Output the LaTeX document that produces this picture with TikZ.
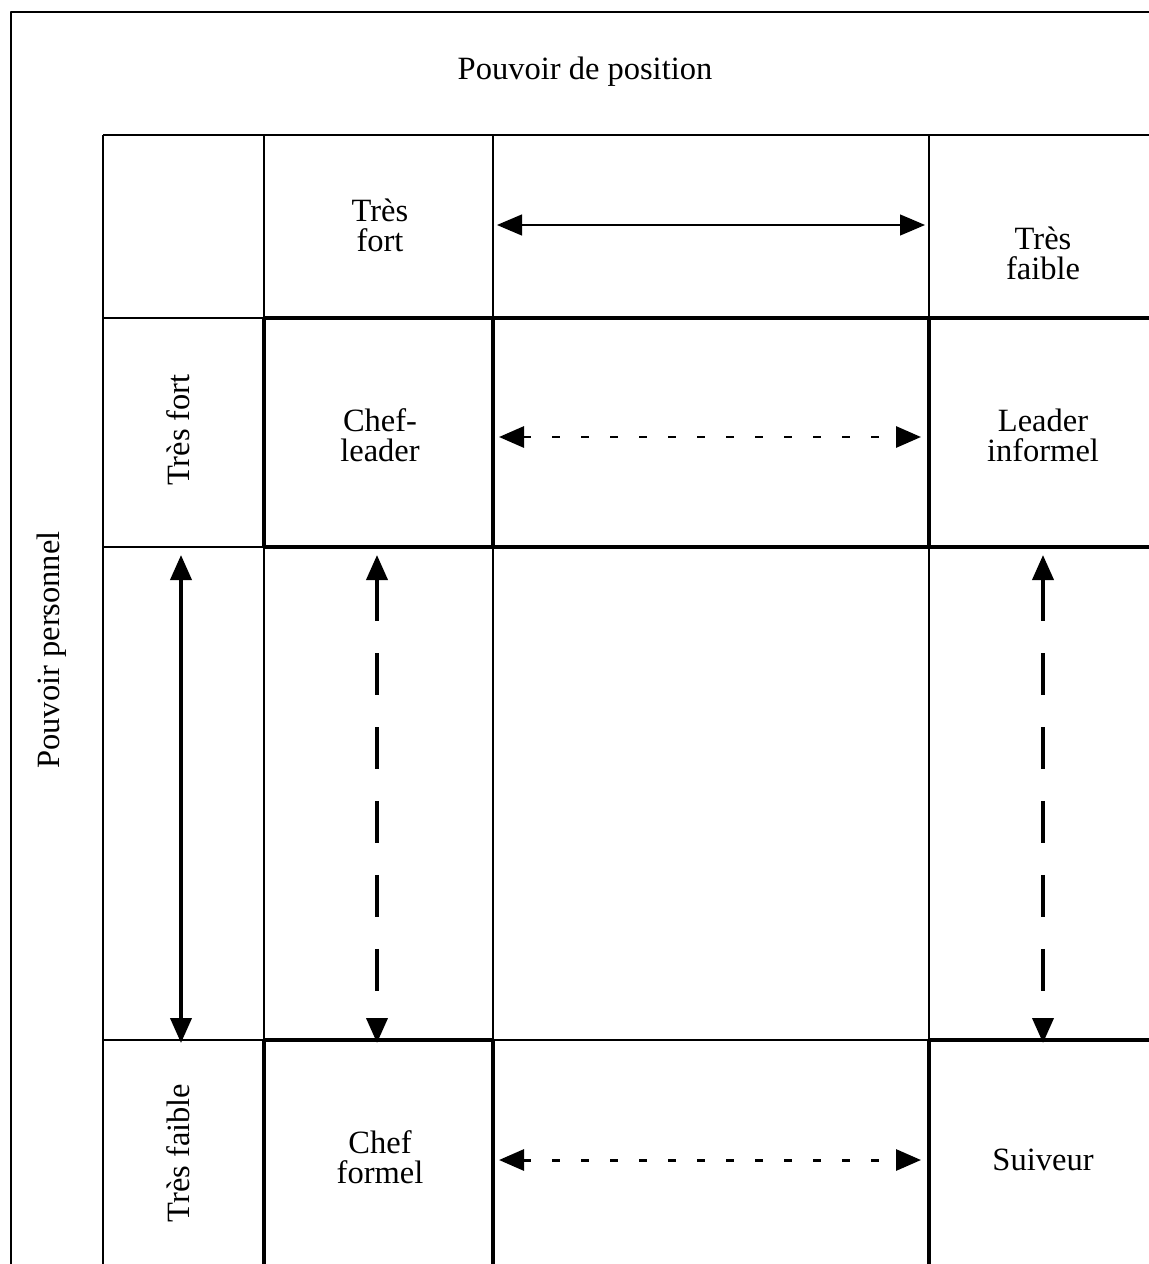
\documentclass[tikz,border=0pt]{standalone}
\usepackage{fontspec}
\setmainfont{Liberation Serif}
\usetikzlibrary{arrows.meta}
\begin{document}
\begin{tikzpicture}[x=0.02cm, y=-0.02cm, font=\fontsize{18.5}{17}\selectfont, line join=round,
	grille/.style={line width=1.1pt},
	epais/.style={line width=2pt},
	fleche/.style={{Triangle[length=0.5cm,width=0.42cm]}-{Triangle[length=0.5cm,width=0.42cm]}},
	tirets/.style={dash pattern=on 0.16cm off 0.42cm, line width=1.7pt},
	longtirets/.style={dash pattern=on 0.84cm off 0.64cm, line width=2.2pt},
	etiquette/.style={align=center, inner sep=0pt}]
	% Cadre de l'image
	\useasboundingbox (0,0) rectangle (1149,1264);
	\clip (0,0) rectangle (1149,1264);
	\fill[white] (0,0) rectangle (1149,1264);
	% Colonnes et lignes
	\def\xa{103}\def\xb{264}\def\xc{493}\def\xd{929}
	\def\ya{135}\def\yb{318}\def\yc{547}\def\yd{1040}
	% Cadre extérieur
	\draw[grille] (11,1300) -- (11,12) -- (1200,12);
	% Grille fine
	\draw[grille] (\xa,\ya) -- (1200,\ya);
	\draw[grille] (\xa,\yb) -- (\xb,\yb);
	\draw[grille] (\xa,\yc) -- (\xb,\yc);
	\draw[grille] (\xa,\yd) -- (\xb,\yd);
	\draw[grille] (\xc,\yd) -- (\xd,\yd);
	\draw[grille] (\xa,\ya) -- (\xa,1300);
	\draw[grille] (\xb,\ya) -- (\xb,1300);
	\draw[grille] (\xc,\ya) -- (\xc,1300);
	\draw[grille] (\xd,\ya) -- (\xd,1300);
	% Cases en trait épais
	\draw[epais] (\xb,\yc) -- (\xb,\yb) -- (1200,\yb);
	\draw[epais] (\xb,\yc) -- (1200,\yc);
	\draw[epais] (\xc,\yb) -- (\xc,\yc);
	\draw[epais] (\xd,\yb) -- (\xd,\yc);
	\draw[epais] (\xb,1300) -- (\xb,\yd) -- (\xc,\yd) -- (\xc,1300);
	\draw[epais] (\xd,1300) -- (\xd,\yd) -- (1200,\yd);
	% Titres
	\node[etiquette] (position) at (585,72) {Pouvoir de position};
	\node[etiquette, rotate=90] (personnel) at (52,650) {Pouvoir personnel};
	% Textes des cases
	\node[etiquette] (fortH) at (380,225) {Très\\fort};
	\node[etiquette] (faibleH) at (1043,253) {Très\\faible};
	\node[etiquette, rotate=90] (fortV) at (178,430) {Très fort};
	\node[etiquette, rotate=90] (faibleV) at (178,1153) {Très faible};
	\node[etiquette] (chefleader) at (380,435) {Chef-\\leader};
	\node[etiquette] (informel) at (1043,435) {Leader\\informel};
	\node[etiquette] (formel) at (380,1157) {Chef\\formel};
	\node[etiquette] (suiveur) at (1043,1160) {Suiveur};
	% Extrémités des flèches
	\coordinate (h1g) at (497,225); \coordinate (h1d) at (925,225);
	\coordinate (h2g) at (499,437); \coordinate (h2d) at (921,437);
	\coordinate (h3g) at (499,1160); \coordinate (h3d) at (921,1160);
	\coordinate (v1h) at (181,555); \coordinate (v1b) at (181,1043);
	\coordinate (v2h) at (377,555); \coordinate (v2b) at (377,1043);
	\coordinate (v3h) at (1043,555); \coordinate (v3b) at (1043,1043);
	% Flèches
	\draw[fleche, line width=0.7pt] (h1g) -- (h1d);
	\draw[fleche, tirets] (h2g) -- (h2d);
	\draw[fleche, tirets] (h3g) -- (h3d);
	\draw[fleche, line width=2.2pt] (v1h) -- (v1b);
	\draw[fleche, longtirets] (v2h) -- (v2b);
	\draw[fleche, longtirets] (v3h) -- (v3b);
\end{tikzpicture}
\end{document}
